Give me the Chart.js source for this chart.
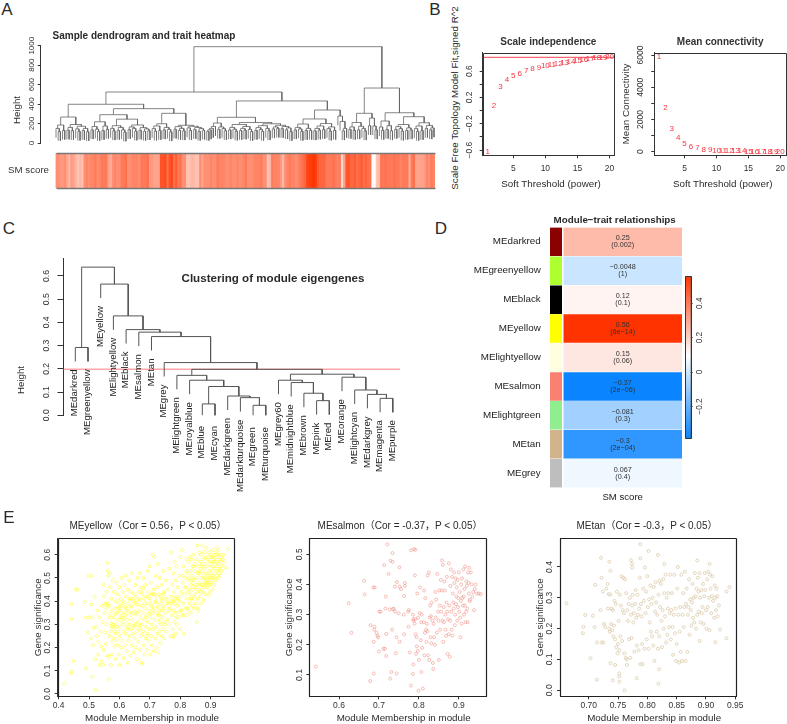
<!DOCTYPE html>
<html>
<head>
<meta charset="utf-8">
<title>WGCNA module analysis</title>
<script src="https://cdn.jsdelivr.net/npm/chart.js@4"></script>
<style>
	html, body { margin: 0; padding: 0; width: 787px; height: 724px; overflow: hidden; background: #fff; }
	canvas { position: absolute; }
	.note { position: absolute; white-space: nowrap; line-height: 1; }
</style>
</head>
<body>
<script>
const FONT = '"Liberation Sans", "Noto Sans CJK SC", sans-serif';
const INK = "#333";

// Panel A: sample tree, written as [height, left, right], 0 is a sample
const clusterA = [267, [185, [150, 0, [118, 0, 0]], [130, 0, 0]], [190, [160, [132, 0, 0], [126, 0, 0]], [172, [145, 0, [120, 0, 0]], [150, [128, 0, 0], [116, 0, 0]]]]];
const clusterB = [291, [218, [170, [135, 0, 0], [142, 0, [118, 0, 0]]], [175, [128, 0, 0], [140, 0, 0]]], [245, [178, [150, 0, [125, 0, 0]], [160, [130, 0, 0], [135, 0, [112, 0, 0]]]], [185, [165, [138, 0, 0], [150, 0, [122, 0, 0]]], [158, [132, 0, 0], [145, [120, 0, 0], [126, 0, 0]]]]]];
const clusterC = [305, [198, [175, [148, 0, [122, 0, 0]], [128, 0, 0]], [160, [135, 0, 0], [140, 0, [115, 0, 0]]]], [182, [168, [142, 0, 0], [150, [130, 0, 0], [125, 0, 0]]], [172, [155, 0, [128, 0, 0]], [160, [138, 0, 0], [148, [120, 0, 0], [132, 0, 0]]]]]];
const clusterD = [264, [205, [170, [150, [135, [120, 0, 0], 0], 0], 0], [165, [140, 0, 0], [148, 0, [126, 0, 0]]]], [211, [190, [160, [135, 0, 0], [142, 0, [122, 0, 0]]], [170, [150, [128, 0, 0], [133, 0, 0]], [140, 0, [118, 0, 0]]]], [198, [178, [158, [130, 0, 0], [138, 0, [120, 0, 0]]], [150, 0, [125, 0, 0]]], [182, [165, [145, 0, 0], [152, 0, 0]], [170, [148, 0, 0], [155, [136, 0, 0], [118, 0, 0]]]]]]];
const clusterE = [247, [195, [160, [135, 0, 0], [145, 0, [120, 0, 0]]], [150, [128, 0, 0], [130, 0, 0]]], [200, [175, [150, [125, 0, 0], [132, 0, 0]], [138, 0, 0]], [165, [148, 0, [122, 0, 0]], [130, 0, 0]]]];
const clusterF = [277, 0, [222, 0, [150, [125, 0, 0], 0]]];
const clusterG = [211, [165, [140, 0, 0], [130, 0, 0]], [172, [135, 0, 0], [150, 0, [125, 0, 0]]]];
const clusterH = [256, [178, 0, 0], [175, 0, [135, 0, 0]]];
const clusterI = [226, [165, 0, [130, 0, 0]], [178, [140, 0, 0], [125, 0, 0]]];
const clusterJ = [270, [190, [168, [140, 0, 0], [148, 0, [122, 0, 0]]], [155, [130, 0, 0], [135, 0, 0]]], [208, [175, [148, 0, [120, 0, 0]], [128, 0, 0]], [180, [150, 0, 0], [155, [135, 0, 0], 0]]]];
const sampleTree = [990,
	[524, [398, clusterA, [353, clusterB, clusterC]], [432, clusterD, [339, clusterE, clusterF]]],
	[565, [305, clusterG, clusterH], [311, clusterI, clusterJ]]
];
const sampleHeightTicks = [0, 200, 400, 600, 800, 1000];
const smScore = [
	.55, .55, .5, .5, .55, .45, .35, .5, .45, .35,
	.3, .35, .3, .55, .6, .55, .6, .6, .65, .55,
	.6, .65, .65, .65, .45, .4, .55, .6, .55, .55,
	.65, .65, .7, .55, .55, .6, .6, .6, .55, .65,
	.65, .65, .7, .5, .5, .45, .45, .45, .85, .85,
	.9, .7, .85, .9, .7, .8, .65, .7, .55, .55,
	.3, .3, .35, .35, .3, .3, .55, .45, .55, .55,
	.55, .6, .55, .55, .65, .6, .6, .6, .55, .55,
	.6, .55, .55, .6, .55, .55, .6, .65, .55, .55,
	.55, .6, .6, .6, .65, .55, .55, .3, .35, .65,
	.6, .6, .6, .5, .35, .55, .6, .65, .6, .6,
	.55, .6, .65, .7, .75, .9, .95, .95, 1, .95,
	.8, .75, .75, .75, .65, .65, .65, .7, .65, .6,
	.65, .2, .45, .8, .85, .75, .75, .8, .7, .75,
	.8, .7, .75, .7, .7, .02, .02, .3, .35, .7,
	.65, .7, .65, .65, .65, .7, .65, .65, .6, .65,
	.65, .65, .4, .65, .7, .45, .45, .45, .45, .5, .6, .55, .65, .6
];

// Panel B: soft threshold picks
const softPowers = [1, 2, 3, 4, 5, 6, 7, 8, 9, 10, 11, 12, 13, 14, 15, 16, 17, 18, 19, 20];
const scaleFit = [-.626, .068, .361, .463, .529, .565, .605, .635, .656, .68, .7, .71, .73, .747, .762, .772, .787, .797, .808, .817];
const meanConnectivity = [5860, 2730, 1450, 850, 520, 335, 230, 150, 105, 85, 65, 50, 40, 32, 25, 20, 17, 14, 12, 10];
const powerTicks = [5, 10, 15, 20];
const fitTicks = [-.6, -.4, -.2, 0, .2, .4, .6];
const fitLabels = [-.6, -.2, .2, .6];
const fitCutoff = .81;
const connTicks = [0, 1000, 2000, 3000, 4000, 5000, 6000];
const connLabels = [0, 2000, 4000, 6000];

// Panel C: module eigengene tree
const eigenLeaves = ["MEdarkred", "MEgreenyellow", "MEyellow", "MElightyellow", "MEblack", "MEsalmon", "MEtan", "MEgrey",
	"MElightgreen", "MEroyalblue", "MEblue", "MEcyan", "MEdarkgreen", "MEdarkturquoise", "MEgreen", "MEturquoise",
	"MEgrey60", "MEmidnightblue", "MEbrown", "MEpink", "MEred", "MEorange", "MElightcyan", "MEdarkgrey", "MEmagenta", "MEpurple"];
const blueBranch = [.172, 0, [.151, 0, [.124, [.049, 0, 0], [.083, 0, [.076, 0, [.043, 0, 0]]]]]];
const brownBranch = [.151, 0, [.141, 0, [.095, 0, [.063, 0, 0]]]];
const orangeBranch = [.164, 0, [.109, 0, [.09, 0, [.073, 0, 0]]]];
const eigenTree = [.638,
	[.292, 0, 0],
	[.565, 0, [.428, 0, [.369, 0, [.358, 0, [.339, 0, [.227, 0, [.198, blueBranch, [.177, brownBranch, orangeBranch]]]]]]]]
];
const eigenTicks = [0, .1, .2, .3, .4, .5, .6];
const mergeCut = .198;

// Panel D: module and trait correlation
const traitModules = ["MEdarkred", "MEgreenyellow", "MEblack", "MEyellow", "MElightyellow", "MEsalmon", "MElightgreen", "MEtan", "MEgrey"];
const moduleColors = ["#8B0000", "#ADFF2F", "#000000", "#FFFF00", "#FFFFE0", "#FA8072", "#90EE90", "#D2B48C", "#BEBEBE"];
const corValues = [.25, -.0048, .12, .56, .15, -.37, -.081, -.3, .067];
const corText = ["0.25", "\u22120.0048", "0.12", "0.56", "0.15", "\u22120.37", "\u22120.081", "\u22120.3", "0.067"];
const pText = ["(0.002)", "(1)", "(0.1)", "(6e\u221214)", "(0.06)", "(2e\u221206)", "(0.3)", "(2e\u221204)", "(0.4)"];
const colorbarTicks = [-.2, 0, .2, .4];
const colorbarStops = [-.385, -.2, 0, .095, .2, .4, .556];

// Panel E: gene significance against module membership
const yellowPoints = [
	[.419,.046],[.44,.089],[.442,.096],[.448,.142],[.442,.387],[.442,.323],[.461,.45],[.457,.45],[.486,.397],[.49,.329],[.49,.11],[.511,.075],[.52,.016],[.498,.509],[.509,.509],
	[.497,.265],[.501,.33],[.506,.24],[.508,.385],[.511,.33],[.513,.21],[.516,.285],[.518,.42],[.52,.15],[.524,.29],[.526,.25],[.528,.36],[.53,.17],[.531,.225],[.533,.33],[.535,.125],[.538,.27],[.54,.205],[.542,.14],[.543,.38],[.545,.31],[.546,.125],[.548,.19],[.55,.42],[.549,.47],[.552,.35],[.553,.265],[.555,.39],[.556,.215],[.557,.3],[.558,.44],[.559,.385],
	[.56,.565],[.562,.53],[.563,.51],[.565,.065],[.561,.165],[.565,.16],[.566,.25],[.567,.33],[.568,.38],[.569,.46],[.57,.52],[.571,.27],[.572,.125],[.573,.305],[.574,.41],[.575,.17],[.576,.36],[.577,.225],[.578,.49],[.579,.29],[.58,.24],[.581,.33],[.582,.44],[.583,.285],[.584,.205],[.585,.37],[.586,.15],[.587,.26],[.588,.4],[.589,.3],[.59,.48],[.591,.235],[.592,.35],[.593,.21],[.594,.43],[.595,.32],[.596,.27],[.597,.39],[.598,.17],[.599,.46],
	[.6,.125],[.601,.36],[.602,.25],[.603,.29],[.604,.41],[.605,.335],[.606,.2],[.607,.5],[.608,.38],[.609,.31],[.61,.23],[.611,.44],[.612,.27],[.613,.35],[.614,.155],[.615,.395],[.616,.47],[.617,.3],[.618,.21],[.619,.34],[.62,.51],[.621,.26],[.622,.42],[.623,.37],[.624,.185],[.625,.32],[.626,.28],[.627,.45],[.628,.135],[.629,.39],[.63,.23],[.631,.355],[.632,.49],[.633,.3],[.634,.25],[.635,.41],[.636,.165],[.637,.34],[.638,.44],[.639,.28],[.64,.375],[.641,.21],[.642,.52],[.643,.32],[.644,.4],[.645,.26],[.646,.295],[.647,.18],[.648,.43],[.649,.355],[.65,.24],
	[.651,.39],[.652,.47],[.653,.3],[.654,.2],[.655,.345],[.656,.42],[.657,.27],[.658,.15],[.659,.385],[.66,.5],[.661,.31],[.662,.225],[.663,.44],[.664,.36],[.665,.28],[.666,.52],[.667,.405],[.668,.19],[.669,.33],[.67,.25],[.671,.46],[.672,.135],[.673,.38],[.674,.3],[.675,.43],[.676,.13],[.677,.35],[.678,.27],[.679,.5],[.68,.21],[.681,.41],[.682,.32],[.683,.17],[.684,.37],[.685,.47],[.686,.24],[.687,.29],[.688,.42],[.689,.34],[.69,.19],[.691,.39],[.692,.26],[.693,.53],[.694,.31],[.695,.44],[.696,.23],[.697,.36],[.698,.28],[.699,.55],
	[.7,.41],[.701,.17],[.702,.33],[.703,.48],[.704,.25],[.705,.38],[.706,.3],[.707,.21],[.708,.43],[.709,.35],[.71,.6],[.711,.28],[.712,.45],[.713,.185],[.714,.37],[.715,.59],[.716,.32],[.717,.43],[.718,.24],[.719,.51],[.72,.4],[.721,.29],[.722,.35],[.723,.2],[.724,.46],[.725,.26],[.726,.375],[.727,.56],[.728,.18],[.729,.31],[.73,.43],[.731,.34],[.732,.27],[.733,.5],[.734,.39],[.735,.22],[.736,.42],[.737,.3],[.738,.36],[.739,.47],[.74,.25],[.741,.4],[.742,.33],[.743,.28],[.744,.53],[.745,.44],[.746,.37],[.747,.24],[.748,.31],[.749,.41],[.75,.35],
	[.752,.49],[.754,.27],[.756,.39],[.758,.32],[.76,.45],[.762,.3],[.764,.54],[.766,.37],[.768,.25],[.77,.61],[.771,.42],[.772,.34],[.774,.47],[.775,.28],[.776,.4],[.777,.52],[.778,.245],[.779,.36],[.78,.44],[.781,.31],[.782,.57],[.783,.39],[.784,.26],[.785,.49],[.786,.35],[.787,.42],[.788,.55],[.789,.3],[.79,.38],[.792,.46],[.794,.33],[.796,.51],[.798,.4],[.8,.28],[.801,.59],[.802,.36],[.804,.44],[.806,.62],[.807,.34],[.808,.48],[.81,.39],[.811,.55],[.812,.26],[.814,.43],[.816,.5],[.818,.37],[.82,.46],[.821,.58],[.822,.34],
	[.824,.41],[.825,.52],[.826,.44],[.827,.36],[.828,.57],[.83,.49],[.831,.39],[.832,.59],[.833,.43],[.834,.53],[.835,.35],[.836,.47],[.837,.58],[.838,.41],[.839,.51],[.84,.38],[.841,.55],[.842,.45],[.843,.6],[.844,.37],[.845,.49],[.846,.42],[.847,.53],[.848,.56],[.85,.46],[.851,.39],[.852,.5],[.853,.58],[.854,.31],[.855,.44],[.856,.64],[.857,.52],[.858,.41],[.859,.55],[.86,.36],[.861,.48],[.862,.61],[.863,.45],[.864,.53],[.865,.57],[.866,.42],[.867,.5],[.868,.6],[.869,.39],[.87,.55],[.871,.47],[.872,.52],[.873,.64],[.874,.44],[.875,.58],[.876,.5],[.877,.405],[.878,.54],[.879,.61],[.88,.48],[.881,.56],[.882,.43],[.883,.52],[.884,.59],[.885,.47],[.886,.63],[.887,.49],[.888,.55],[.889,.46],[.89,.51],[.891,.58],[.892,.61],[.893,.48],[.894,.425],[.895,.53],[.896,.57],[.897,.5],[.898,.44],[.899,.6],
	[.9,.52],[.901,.56],[.902,.48],[.903,.59],[.904,.51],[.905,.62],[.906,.55],[.907,.45],[.908,.58],[.909,.5],[.91,.54],[.911,.6],[.912,.47],[.913,.57],[.914,.52],[.915,.61],[.916,.49],[.917,.55],[.918,.59],[.919,.51],[.92,.63],[.921,.57],[.922,.53],[.923,.6],[.924,.5],[.925,.56],[.926,.62],[.927,.52],[.928,.58],[.929,.54],[.93,.6],[.931,.51],[.932,.57],[.934,.59],[.935,.55],[.936,.53],[.938,.58],[.94,.565],[.942,.6],[.945,.575],[.95,.545],[.958,.625],
	[.552,.385],[.558,.37],[.563,.39],[.571,.345],[.574,.29],[.579,.3],[.583,.27],[.587,.345],[.592,.29],[.596,.37],[.601,.375],[.606,.33],[.61,.4],[.615,.325],[.619,.375],[.624,.36],[.628,.29],[.633,.41],[.637,.38],[.642,.35],[.645,.41],[.65,.29],[.654,.395],[.658,.35],[.663,.41],[.667,.295],[.671,.44],[.675,.26],[.679,.455],[.683,.39],[.686,.33],[.69,.25],[.694,.42],[.698,.345],[.702,.39],[.706,.43],[.71,.36],[.714,.43],[.718,.395],[.722,.42],[.726,.34],[.73,.36],[.734,.32],[.738,.41],[.742,.38],[.746,.43],[.75,.3],[.755,.41],[.759,.39],[.763,.36],[.767,.4],[.771,.39],[.775,.25],[.779,.4],[.783,.41],[.787,.33],[.791,.41],[.795,.355],[.8,.42],[.804,.36],[.808,.51],[.812,.34],[.816,.46],[.82,.53],[.824,.37],[.828,.5],[.832,.45],[.836,.41],[.84,.49],[.844,.55],[.848,.43],[.852,.47],[.856,.37],[.86,.52],[.864,.47],[.868,.44],[.872,.56],[.876,.46],[.88,.5],[.884,.475],[.888,.48],[.892,.49],[.896,.47],[.9,.59],[.905,.5],[.91,.57]
];
const salmonPoints = [
	[.542,.128],[.624,.338],[.631,.24],[.663,.412],[.664,.367],[.686,.39],[.689,.39],[.679,.265],[.721,.533],[.734,.504],[.729,.479],[.734,.475],[.713,.464],[.751,.457],[.724,.435],[.78,.513],[.788,.517],[.791,.515],
	[.678,.08],[.687,.105],[.689,.26],[.688,.25],[.687,.21],[.694,.24],[.696,.23],[.698,.225],[.7,.178],[.701,.31],[.704,.31],[.711,.187],[.715,.187],[.718,.163],[.716,.32],[.717,.36],[.727,.317],[.731,.11],[.728,.088],[.733,.25],[.718,.236],[.737,.32],[.74,.31],[.744,.225],[.742,.172],[.745,.408],[.74,.393],[.744,.105],[.752,.393],[.755,.385],[.752,.21],[.735,.318],[.749,.305],[.762,.3],[.763,.362],[.765,.405],[.765,.395],[.763,.235],[.775,.315],[.773,.31],[.774,.26],[.78,.065],[.785,.103],[.777,.175],[.786,.135],
	[.785,.3],[.786,.285],[.787,.28],[.789,.27],[.79,.43],[.791,.285],[.792,.235],[.793,.17],[.794,.225],[.795,.195],[.796,.37],[.797,.18],[.798,.29],[.799,.048],[.8,.15],[.802,.305],[.803,.39],[.805,.215],[.806,.275],[.806,.11],[.807,.3],[.808,.19],[.81,.055],[.812,.275],[.813,.38],[.814,.165],[.815,.24],[.816,.355],[.818,.25],[.819,.21],[.82,.27],[.821,.245],[.822,.43],[.823,.165],[.825,.44],[.826,.15],[.827,.29],[.828,.33],[.829,.225],[.83,.295],[.831,.205],[.832,.34],[.834,.28],[.835,.14],[.836,.12],[.837,.27],[.838,.225],[.84,.2],[.841,.375],[.842,.29],[.843,.35],[.845,.24],[.846,.435],[.848,.31],[.849,.28],[.85,.15],[.851,.38],[.852,.33],[.853,.25],[.855,.415],[.856,.31],[.857,.38],[.858,.48],[.859,.28],[.86,.465],[.861,.21],[.862,.325],[.863,.275],[.864,.41],[.865,.38],[.866,.3],[.867,.25],[.868,.23],[.869,.34],[.87,.425],[.871,.31],[.872,.17],[.873,.285],[.875,.235],[.875,.47],[.876,.33],[.877,.16],[.878,.28],[.879,.395],[.88,.45],[.881,.31],[.882,.25],[.883,.425],[.884,.23],[.885,.37],[.886,.34],[.887,.32],[.888,.44],[.889,.405],[.89,.265],[.891,.3],[.892,.42],[.893,.335],[.894,.36],[.895,.39],[.896,.28],[.897,.415],[.898,.325],[.899,.355],[.9,.44],[.901,.31],[.902,.375],[.903,.29],[.904,.225],[.905,.345],[.906,.4],[.907,.27],[.908,.42],[.909,.355],[.91,.33],[.911,.45],[.912,.36],[.913,.3],[.914,.385],[.915,.33],[.916,.46],[.917,.275],[.918,.31],[.919,.41],[.92,.395],[.921,.32],[.922,.275],[.923,.44],[.924,.405],[.925,.37],[.926,.455],[.927,.345],[.928,.35],[.93,.44],[.932,.4],[.934,.36],[.936,.375],[.938,.315],[.94,.385],[.942,.4],[.945,.37],[.95,.37],[.955,.368]
];
const tanPoints = [
	[.662,.282],[.703,.104],[.714,.034],[.691,.206],[.69,.185],[.694,.244],[.707,.242],[.711,.342],[.721,.43],[.735,.417],[.737,.388],[.788,.474],[.802,.452],[.818,.439],[.788,.428],[.772,.422],[.774,.41],[.774,.398],[.829,.409],[.885,.421],[.906,.41],[.94,.335],[.935,.32],[.935,.169],[.916,.156],[.889,.16],[.819,.021],[.761,0],[.752,.055],[.752,.045],[.752,.028],[.741,.032],[.782,.039],[.82,.068],[.737,.088],[.745,.082],[.765,.082],
	[.71,.205],[.714,.155],[.722,.155],[.725,.155],[.72,.26],[.722,.365],[.724,.32],[.726,.215],[.728,.205],[.73,.33],[.732,.345],[.733,.265],[.734,.312],[.735,.2],[.736,.19],[.737,.31],[.738,.215],[.739,.265],[.74,.195],[.741,.26],[.742,.175],[.743,.21],[.744,.29],[.745,.165],[.746,.28],[.747,.14],[.748,.32],[.749,.12],[.75,.15],[.751,.225],[.752,.13],[.753,.31],[.754,.175],[.755,.275],[.756,.37],[.757,.16],[.758,.26],[.759,.365],[.76,.25],[.761,.12],[.762,.36],[.763,.105],[.764,.315],[.765,.1],[.766,.26],[.767,.225],[.768,.28],[.769,.165],[.77,.3],[.771,.105],[.772,.245],[.773,.17],[.774,.275],[.775,.31],[.776,.22],[.777,.25],[.778,.125],[.779,.28],[.78,.325],[.781,.235],[.782,.145],[.783,.31],[.784,.245],[.785,.13],[.786,.265],[.787,.365],[.788,.085],[.789,.28],[.79,.24],[.791,.15],[.792,.085],[.793,.33],[.794,.29],[.795,.135],[.796,.398],[.797,.25],[.798,.32],[.799,.165],[.8,.37],
	[.801,.27],[.802,.135],[.803,.295],[.804,.22],[.805,.34],[.806,.19],[.807,.28],[.808,.175],[.809,.3],[.81,.145],[.811,.335],[.812,.095],[.813,.255],[.814,.35],[.815,.285],[.816,.19],[.817,.245],[.818,.135],[.819,.31],[.82,.175],[.821,.355],[.822,.27],[.823,.345],[.824,.225],[.825,.14],[.826,.26],[.827,.36],[.828,.2],[.829,.315],[.83,.24],[.831,.375],[.832,.155],[.833,.3],[.834,.18],[.835,.265],[.836,.315],[.837,.205],[.838,.25],[.839,.375],[.84,.165],[.841,.26],[.842,.315],[.843,.205],[.844,.115],[.845,.245],[.846,.375],[.847,.185],[.848,.265],[.849,.095],[.85,.15],[.851,.33],[.852,.4],[.853,.245],[.854,.09],[.855,.19],[.856,.27],[.857,.125],[.858,.375],[.859,.095],[.86,.245],[.861,.315],[.862,.205],[.863,.27],[.864,.385],[.865,.095],[.866,.28],[.867,.33],[.868,.125],[.869,.245],[.87,.27],[.871,.36],[.872,.18],[.873,.295],[.874,.26],[.875,.21],[.876,.285],[.877,.345],[.878,.235],[.879,.3],[.88,.22],[.881,.38],[.882,.305],[.883,.2],[.884,.33],[.885,.245],[.886,.365],[.887,.32],[.888,.255],[.889,.38],[.89,.3],[.891,.22],[.892,.325],[.893,.25],[.894,.27],[.895,.345],[.896,.215],[.897,.305],[.898,.38],[.899,.325],[.9,.26],[.901,.2],[.902,.36],[.903,.27],[.904,.385],[.905,.3],[.906,.195],[.907,.375],[.908,.33],[.909,.25],[.91,.305],[.911,.37],[.912,.29],[.914,.235],[.915,.34],[.916,.3],[.917,.26],[.918,.33],[.919,.305],[.92,.24],[.922,.275],[.924,.197]
];
const moduleTitles = ["MEyellow\uFF08Cor = 0.56\uFF0CP < 0.05\uFF09", "MEsalmon\uFF08Cor = -0.37\uFF0CP < 0.05\uFF09", "MEtan\uFF08Cor = -0.3\uFF0CP < 0.05\uFF09"];
const yellowTicksX = [.4, .5, .6, .7, .8, .9];
const yellowTicksY = [0, .1, .2, .3, .4, .5, .6];
const salmonTicksX = [.6, .7, .8, .9];
const salmonTicksY = [.1, .2, .3, .4, .5];
const tanTicksX = [.7, .75, .8, .85, .9, .95];
const tanTicksY = [0, .1, .2, .3, .4];

const measure = document.createElement("canvas").getContext("2d");
function textWidth(text, size) {
	measure.font = size + "px " + FONT;
	return measure.measureText(text).width;
}

function minusFormat(value, digits) {
	return value.toFixed(digits).replace("-", "\u2212");
}

// Ticks from a fixed list, labels turned to read upwards like base R axes
function valueAxis(opts) {
	const size = opts.size || 8.5;
	const tickLen = opts.tick || 3;
	const digits = opts.digits === undefined ? 1 : opts.digits;
	const labelled = opts.labels || opts.values;
	const text = opts.format || ((v) => minusFormat(v, digits));
	let ticks = {
		font: { size: size }, color: INK, autoSkip: false, maxRotation: 0,
		padding: opts.pad === undefined ? 3 : opts.pad,
		callback: (v) => labelled.includes(v) ? text(v) : ""
	};
	if (opts.upright === undefined || opts.upright) {
		const widest = Math.max(...labelled.map((v) => textWidth(text(v), size)));
		ticks.minRotation = 90;
		ticks.maxRotation = 90;
		ticks.crossAlign = "center";
		ticks.padding = opts.offset - tickLen - widest / 2;
	}
	let axis = {
		type: "linear", position: opts.position || "left", min: opts.min, max: opts.max,
		afterBuildTicks: (s) => { s.ticks = opts.values.map((v) => ({ value: v })); },
		grid: { drawOnChartArea: false, tickLength: tickLen, color: opts.lineColor || INK },
		border: { color: opts.lineColor || INK, width: 1 },
		ticks: ticks
	};
	if (opts.title) {
		axis.title = { display: true, text: opts.title, font: { size: 9.8 }, color: INK, padding: 0 };
	}
	return axis;
}

function blankAxis(type, position, min, max) {
	return {
		type: type, position: position, min: min, max: max,
		grid: { display: false, drawTicks: false }, border: { display: false }, ticks: { display: false }
	};
}

// Straight strokes round the plot area, R's box()
function framePlugin(color, width, sides) {
	return {
		id: "plotFrame",
		afterDatasetsDraw(chart) {
			const a = chart.chartArea;
			const c = chart.ctx;
			const on = sides || ["top", "right", "bottom", "left"];
			c.save();
			c.strokeStyle = color;
			c.lineWidth = width;
			c.beginPath();
			const l = Math.round(a.left) + .5, r = Math.round(a.right) + .5;
			const t = Math.round(a.top) + .5, b = Math.round(a.bottom) + .5;
			if (on.includes("top")) { c.moveTo(l, t); c.lineTo(r, t); }
			if (on.includes("bottom")) { c.moveTo(l, b); c.lineTo(r, b); }
			if (on.includes("left")) { c.moveTo(l, t); c.lineTo(l, b); }
			if (on.includes("right")) { c.moveTo(r, t); c.lineTo(r, b); }
			c.stroke();
			c.restore();
		}
	};
}

// Places a canvas so the chart area lands on box, margins hold the axes
function plotAt(box, margins, config) {
	const x = Math.floor(box.left - margins.l);
	const y = Math.floor(box.top - margins.t);
	const m = { l: box.left - x, t: box.top - y };
	const canvas = document.createElement("canvas");
	canvas.width = Math.ceil(box.right + (margins.r || 0)) - x;
	canvas.height = Math.ceil(box.bottom + (margins.b || 0)) - y;
	m.r = canvas.width - (box.right - x);
	m.b = canvas.height - (box.bottom - y);
	canvas.style.left = x + "px";
	canvas.style.top = y + "px";
	document.body.append(canvas);

	let options = config.options;
	let hasLeft = false, hasRight = false;
	Object.values(options.scales).forEach((scale) => {
		if (scale.position === "left") hasLeft = true;
		if (scale.position === "right") hasRight = true;
		scale.afterFit = (s) => {
			if (s.position === "left") s.width = m.l;
			if (s.position === "right") s.width = m.r;
			if (s.position === "bottom") s.height = m.b;
		};
	});
	options.layout = { padding: { left: hasLeft ? 0 : m.l, right: hasRight ? 0 : m.r, top: 0, bottom: 0 } };
	const plugins = options.plugins || {};
	if (plugins.chartTitle) {
		// title text sits at the canvas top, the rest of the margin is padding
		const size = plugins.chartTitle.size;
		const lh = size * 1.2;
		plugins.title = {
			display: true, text: plugins.chartTitle.text, fullSize: false, color: plugins.chartTitle.color || INK,
			font: { size: size, weight: plugins.chartTitle.weight || "normal" },
			padding: { top: 0, bottom: m.t - lh }
		};
		delete plugins.chartTitle;
	} else {
		options.layout.padding.top = m.t;
	}
	plugins.legend = { display: false };
	plugins.tooltip = { enabled: false };
	options.plugins = plugins;
	options.animation = false;
	options.responsive = false;
	options.events = [];
	return new Chart(canvas, config);
}

function note(text, x, y, style) {
	const s = style || {};
	let el = document.createElement("div");
	el.className = "note";
	el.textContent = text;
	el.style.left = x + "px";
	el.style.top = y + "px";
	el.style.fontFamily = FONT;
	el.style.fontSize = (s.size || 9.8) + "px";
	el.style.fontWeight = s.weight || "normal";
	el.style.color = s.color || "#2a2a2a";
	el.style.transform = "translate(-50%, -50%) rotate(" + (s.rotate || 0) + "deg)";
	document.body.append(el);
}

// Lays out a tree like hclust: leaves in order, each node over its children's midpoint
function treeLayout(tree, hang) {
	let segments = [];
	let leaves = [];
	function walk(node, parentHeight) {
		if (node === 0) {
			const leaf = { x: leaves.length, y: parentHeight - hang };
			leaves.push(leaf);
			return leaf;
		}
		const a = walk(node[1], node[0]);
		const b = walk(node[2], node[0]);
		segments.push({ x: a.x, y: a.y }, { x: a.x, y: node[0] }, { x: b.x, y: node[0] }, { x: b.x, y: b.y }, { x: null, y: null });
		return { x: (a.x + b.x) / 2, y: node[0] };
	}
	walk(tree, tree[0]);
	return { segments: segments, leaves: leaves };
}

function treeDataset(segments, width, color) {
	return { data: segments, showLine: true, pointRadius: 0, borderColor: color || "#555", borderWidth: width || 1 };
}

function smColor(v) {
	return "rgb(255," + Math.round(255 - 204 * v) + "," + Math.round(255 - 255 * v) + ")";
}

// White sits near 0.095 in the trait colour scale
function corColor(v) {
	if (v >= .095) {
		const t = (v - .095) / .465;
		return "rgb(255," + Math.round(255 - 204 * t) + "," + Math.round(255 - 255 * t) + ")";
	}
	const t = Math.min((.095 - v) / .465, 1);
	return "rgb(" + Math.round(255 - 245 * t) + "," + Math.round(255 - 122 * t) + ",255)";
}

Chart.defaults.font.family = FONT;
Chart.defaults.color = INK;

// Panel A
const sampleLayout = treeLayout(sampleTree, 95);
const samplePitch = (434 - 56) / (sampleLayout.leaves.length - 1);
plotAt({ left: 40.7, top: 45.7, right: 436, bottom: 143 }, { l: 34, t: 10, r: 2, b: 10 }, {
	type: "scatter",
	data: { datasets: [treeDataset(sampleLayout.segments, .8, "#666")] },
	options: {
		scales: {
			x: blankAxis("linear", "bottom", -(56 - 40.7) / samplePitch, (436 - 56) / samplePitch),
			y: valueAxis({ min: 0, max: 1000, values: sampleHeightTicks, digits: 0, offset: 9, tick: 3, size: 8 })
		}
	}
});
plotAt({ left: 55.5, top: 153, right: 435, bottom: 188 }, { l: 50, t: 16, r: 2, b: 16 }, {
	type: "bar",
	data: {
		labels: smScore.map((v, i) => i),
		datasets: [{ data: smScore.map(() => 1), backgroundColor: smScore.map(smColor), categoryPercentage: 1, barPercentage: 1 }]
	},
	options: {
		scales: {
			x: blankAxis("category", "bottom"),
			y: {
				type: "linear", position: "left", min: 0, max: 1,
				afterBuildTicks: (s) => { s.ticks = [{ value: .5 }]; },
				grid: { display: false, drawTicks: false }, border: { display: false },
				ticks: { font: { size: 9.7 }, color: INK, padding: 6.5, callback: () => "SM score" }
			}
		}
	},
	plugins: [framePlugin("#777", 1.5, ["top", "bottom"])]
});

// Panel B: red index numbers stand in for the points
const powerNumbers = {
	id: "powerNumbers",
	afterDatasetsDraw(chart) {
		const c = chart.ctx;
		c.save();
		c.fillStyle = "#F5333F";
		c.font = "8px " + FONT;
		c.textAlign = "center";
		c.textBaseline = "middle";
		chart.getDatasetMeta(0).data.forEach((pt, i) => {
			c.fillText(String(softPowers[i]), pt.x, pt.y);
		});
		c.restore();
	}
};
const fitData = softPowers.map((p, i) => ({ x: p, y: scaleFit[i] }));
plotAt({ left: 482.7, top: 52.7, right: 614, bottom: 155.3 }, { l: 18, t: 16, r: 8, b: 20 }, {
	type: "scatter",
	data: {
		datasets: [
			{ data: fitData, pointRadius: 0 },
			{ data: [{ x: 0, y: fitCutoff }, { x: 21, y: fitCutoff }], showLine: true, pointRadius: 0, borderColor: "#F5444F", borderWidth: 1 }
		]
	},
	options: {
		plugins: { chartTitle: { text: "Scale independence", size: 10, weight: "bold" } },
		scales: {
			x: valueAxis({ position: "bottom", min: .23, max: 20.7, values: powerTicks, digits: 0, upright: false, pad: 5.5 }),
			y: valueAxis({ min: -.68, max: .88, values: fitTicks, labels: fitLabels, offset: 13 })
		}
	},
	plugins: [framePlugin(INK, 1), powerNumbers]
});
plotAt({ left: 654.3, top: 52.7, right: 786, bottom: 155.3 }, { l: 33.5, t: 16, r: 8, b: 20 }, {
	type: "scatter",
	data: { datasets: [{ data: softPowers.map((p, i) => ({ x: p, y: meanConnectivity[i] })), pointRadius: 0 }] },
	options: {
		plugins: { chartTitle: { text: "Mean connectivity", size: 10, weight: "bold" } },
		scales: {
			x: valueAxis({ position: "bottom", min: .25, max: 20.9, values: powerTicks, digits: 0, upright: false, pad: 5.5 }),
			y: valueAxis({ min: -220, max: 6145, values: connTicks, labels: connLabels, digits: 0, offset: 13.6, title: "Mean Connectivity" })
		}
	},
	plugins: [framePlugin(INK, 1), powerNumbers]
});

// Panel C
const eigenLayout = treeLayout(eigenTree, .06);
const leafPitch = 12.7;
const cutScaleMin = -(75.3 - 63) / leafPitch;
const cutScaleMax = (400 - 75.3) / leafPitch;
const leafNames = {
	id: "leafNames",
	afterDatasetsDraw(chart) {
		const c = chart.ctx;
		c.save();
		c.fillStyle = "#222";
		c.font = "9.6px " + FONT;
		c.textAlign = "right";
		c.textBaseline = "middle";
		eigenLayout.leaves.forEach((leaf, i) => {
			c.save();
			c.translate(chart.scales.x.getPixelForValue(leaf.x) - .5, chart.scales.y.getPixelForValue(leaf.y) + 8);
			c.rotate(-Math.PI / 2);
			c.fillText(eigenLeaves[i], 0, 0);
			c.restore();
		});
		c.restore();
	}
};
plotAt({ left: 63, top: 258.3, right: 400, bottom: 415.3 }, { l: 25, t: 10, r: 2, b: 80 }, {
	type: "scatter",
	data: {
		datasets: [
			treeDataset(eigenLayout.segments),
			{ data: [{ x: cutScaleMin, y: mergeCut }, { x: cutScaleMax, y: mergeCut }], showLine: true, pointRadius: 0, borderColor: "rgba(255,60,60,.45)", borderWidth: 1.5 }
		]
	},
	options: {
		scales: {
			x: blankAxis("linear", "bottom", cutScaleMin, cutScaleMax),
			y: valueAxis({ min: 0, max: .676, values: eigenTicks, offset: 16.3, tick: 5.5, size: 8.6 })
		}
	},
	plugins: [leafNames]
});

// Panel D
plotAt({ left: 550, top: 227.3, right: 562, bottom: 487.7 }, { l: 80, t: 16, r: 1, b: 16 }, {
	type: "bar",
	data: { labels: traitModules, datasets: [{ data: traitModules.map(() => 1), backgroundColor: moduleColors, categoryPercentage: 1, barPercentage: .985 }] },
	options: {
		indexAxis: "y",
		scales: {
			x: blankAxis("linear", "bottom", 0, 1),
			y: {
				type: "category", position: "left",
				grid: { display: false, drawTicks: false }, border: { display: false },
				ticks: { font: { size: 9.8 }, color: "#222", padding: 9.3, autoSkip: false }
			}
		}
	}
});
const cellText = {
	id: "cellText",
	afterDatasetsDraw(chart) {
		const c = chart.ctx;
		c.save();
		c.fillStyle = "#333";
		c.font = "7.2px " + FONT;
		c.textAlign = "center";
		c.textBaseline = "middle";
		chart.getDatasetMeta(0).data.forEach((bar, i) => {
			const mid = (bar.x + bar.base) / 2;
			c.fillText(corText[i], mid, bar.y - 3.6);
			c.fillText(pText[i], mid, bar.y + 3.6);
		});
		c.restore();
	}
};
plotAt({ left: 563.3, top: 227.3, right: 682, bottom: 487.7 }, { l: 1, t: 4, r: 2, b: 15 }, {
	type: "bar",
	data: { labels: traitModules, datasets: [{ data: corValues.map(() => 1), backgroundColor: corValues.map(corColor), categoryPercentage: 1, barPercentage: .985 }] },
	options: {
		indexAxis: "y",
		scales: {
			x: Object.assign(blankAxis("linear", "bottom", 0, 1), {
				title: { display: true, text: "SM score", font: { size: 9.6 }, color: "#222", padding: 0 }
			}),
			y: blankAxis("category", "left")
		}
	},
	plugins: [cellText]
});
plotAt({ left: 685.3, top: 276.3, right: 690.7, bottom: 438.3 }, { l: 1, t: 16, r: 20, b: 16 }, {
	type: "bar",
	data: {
		labels: ["cor"],
		datasets: [{
			data: [[colorbarStops[0], colorbarStops[colorbarStops.length - 1]]],
			categoryPercentage: 1, barPercentage: 1,
			backgroundColor: (ctx) => {
				const area = ctx.chart.chartArea;
				if (!area) return "#fff";
				const low = colorbarStops[0];
				const span = colorbarStops[colorbarStops.length - 1] - low;
				let g = ctx.chart.ctx.createLinearGradient(0, area.bottom, 0, area.top);
				colorbarStops.forEach((v) => {
					g.addColorStop(Math.min((v - low) / span, 1), corColor(v));
				});
				return g;
			}
		}]
	},
	options: {
		scales: {
			x: blankAxis("category", "bottom"),
			y: valueAxis({
				position: "right", min: -.385, max: .556, values: colorbarTicks, offset: 8.6, tick: 2, size: 8.3, lineColor: "#444",
				format: (v) => v === 0 ? "0" : minusFormat(v, 1)
			})
		}
	},
	plugins: [framePlugin("#333", 1)]
});

// Panel E
function membershipPlot(box, title, titleX, points, color, xAxis, yAxis) {
	plotAt(box, { l: 25.5, t: 10, r: 12, b: 16 }, {
		type: "scatter",
		data: { datasets: [{ data: points.map((p) => ({ x: p[0], y: p[1] })), pointRadius: 1.5, borderWidth: .8, borderColor: color, backgroundColor: "rgba(0,0,0,0)" }] },
		options: {
			scales: {
				x: valueAxis(Object.assign({ position: "bottom", upright: false, pad: 1.5 }, xAxis)),
				y: valueAxis(Object.assign({ offset: 10, title: "Gene significance" }, yAxis))
			}
		},
		plugins: [framePlugin("#222", 1.2)]
	});
	note(title, titleX, 525.7, { size: 10 });
	note("Module Membership in module", (box.left + box.right) / 2 + 6, 717.7);
}
membershipPlot({ left: 57.7, top: 538.3, right: 234.3, bottom: 696.3 }, moduleTitles[0], 148, yellowPoints, "rgba(255,255,70,.85)",
	{ min: .397, max: .978, values: yellowTicksX }, { min: -.01, max: .671, values: yellowTicksY });
membershipPlot({ left: 309.3, top: 538.3, right: 486, bottom: 696.3 }, moduleTitles[1], 400, salmonPoints, "rgba(240,150,140,.75)",
	{ min: .5256, max: .968, values: salmonTicksX }, { min: .0294, max: .553, values: salmonTicksY });
membershipPlot({ left: 560, top: 538.3, right: 736.3, bottom: 696.3 }, moduleTitles[2], 647, tanPoints, "rgba(215,195,160,.85)",
	{ min: .651, max: .9517, values: tanTicksX, digits: 2 }, { min: -.0195, max: .493, values: tanTicksY });

// Panel letters and headings that sit away from their plots
note("A", 7, 9, { size: 17 });
note("B", 435, 9, { size: 17 });
note("C", 9, 228, { size: 17 });
note("D", 441, 228, { size: 17 });
note("E", 9, 517, { size: 17 });
note("Sample dendrogram and trait heatmap", 144, 36.3, { size: 10, weight: "bold" });
note("Height", 16.7, 110, { rotate: -90, size: 9.7 });
note("Scale Free Topology Model Fit,signed R^2", 455, 97.5, { rotate: -90 });
note("Soft Threshold (power)", 551, 184);
note("Soft Threshold (power)", 722.7, 184);
note("Height", 20.7, 380, { rotate: -90, size: 9.7 });
note("Clustering of module eigengenes", 273, 278.3, { size: 11.6, weight: "bold" });
note("Module\u2212trait relationships", 614.7, 220, { weight: "bold" });
</script>
</body>
</html>
